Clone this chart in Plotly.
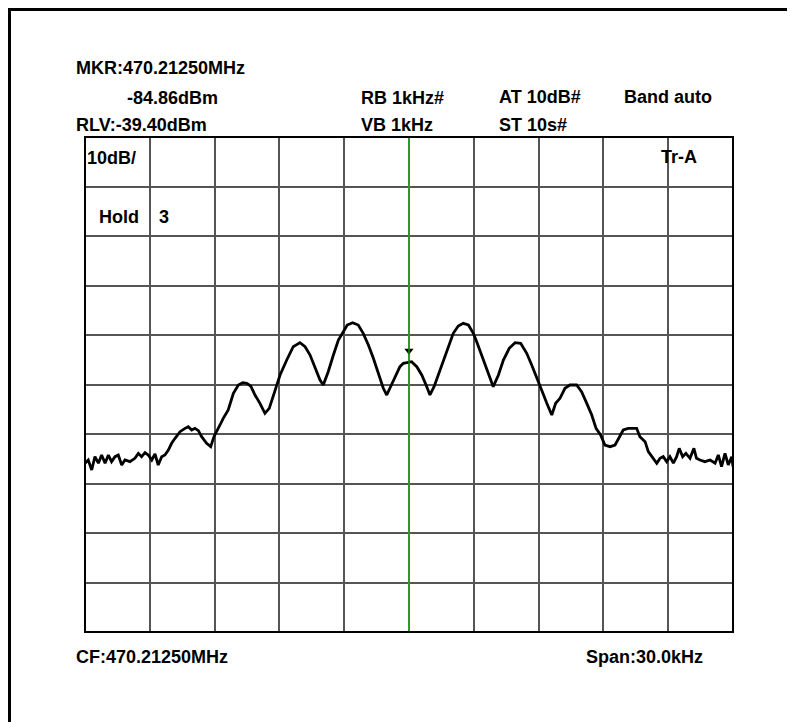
import plotly.graph_objects as go

# trace: offset from centre frequency (kHz) and level (dBm)
freq_khz = [
    -15.0, -14.85, -14.69, -14.54, -14.38, -14.23, -14.07, -13.92, -13.77, -13.61,
    -13.46, -13.30, -13.15, -12.92, -12.69, -12.53, -12.38, -12.22, -12.07, -11.91,
    -11.76, -11.61, -11.45, -11.30, -11.14, -10.99, -10.83, -10.60, -10.37, -10.22,
    -10.06, -9.91, -9.75, -9.60, -9.37, -9.18, -9.03, -8.90, -8.75, -8.60,
    -8.37, -8.13, -7.90, -7.70, -7.51, -7.33, -7.13, -6.90, -6.67, -6.47,
    -6.20, -5.97, -5.66, -5.36, -5.05, -4.81, -4.58, -4.35, -4.12, -3.97,
    -3.74, -3.50, -3.27, -3.04, -2.86, -2.61, -2.35, -2.12, -1.88, -1.65,
    -1.42, -1.19, -1.03, -0.88, -0.73, -0.42, -0.26, 0.0, 0.12, 0.36,
    0.59, 0.79, 0.97, 1.16, 1.36, 1.59, 1.82, 2.05, 2.28, 2.51,
    2.75, 2.98, 3.16, 3.36, 3.60, 3.90, 4.14, 4.37, 4.64, 4.91,
    5.17, 5.45, 5.68, 5.91, 6.14, 6.38, 6.61, 6.79, 6.99, 7.22,
    7.45, 7.76, 7.99, 8.23, 8.46, 8.66, 8.87, 9.07, 9.31, 9.54,
    9.77, 9.92, 10.15, 10.54, 10.69, 10.93, 11.08, 11.31, 11.47, 11.62,
    11.77, 11.93, 12.08, 12.24, 12.39, 12.51, 12.67, 12.82, 13.01, 13.19,
    13.31, 13.47, 13.70, 13.94, 14.17, 14.32, 14.47, 14.63, 14.78, 14.94,
    15.0,
]
level_dbm = [
    -105.3, -104.65, -106.67, -103.98, -105.3, -103.64, -105.3, -103.64, -104.99, -103.98,
    -103.64, -105.66, -104.65, -104.99, -104.32, -103.31, -103.98, -103.17, -103.64, -104.65,
    -103.44, -105.66, -103.98, -103.64, -102.63, -101.28, -100.27, -98.93, -98.26, -97.92,
    -98.59, -98.26, -98.73, -99.94, -101.28, -101.96, -99.94, -98.93, -97.58, -96.23,
    -94.55, -91.18, -89.50, -89.03, -89.16, -89.70, -91.52, -93.20, -95.22, -94.21,
    -90.51, -87.48, -84.45, -81.76, -80.95, -81.76, -83.44, -85.80, -88.49, -89.50,
    -86.81, -83.44, -80.41, -78.73, -77.38, -76.91, -77.38, -79.06, -81.42, -84.11,
    -87.14, -90.17, -91.52, -90.17, -88.49, -85.80, -85.12, -84.86, -84.79, -85.80,
    -87.48, -89.50, -91.52, -89.84, -87.48, -84.45, -81.76, -79.06, -77.58, -77.04,
    -77.38, -79.06, -81.08, -83.44, -86.47, -89.84, -87.48, -84.45, -82.09, -80.95,
    -81.08, -83.10, -85.46, -87.82, -90.51, -93.20, -95.56, -93.20, -92.19, -90.17,
    -89.50, -89.50, -90.85, -93.20, -95.56, -98.26, -99.60, -101.62, -101.96, -101.62,
    -99.94, -98.59, -98.26, -98.26, -99.94, -100.95, -102.97, -104.32, -105.3, -104.32,
    -103.98, -104.99, -103.98, -105.3, -103.98, -102.29, -103.98, -103.31, -104.32, -102.29,
    -104.32, -104.65, -104.99, -104.65, -105.3, -103.64, -106.0, -103.31, -105.66, -103.98,
    -106.0,
]

marker_khz = [0.0]
marker_dbm = [-84.86]

ref_level = -39.40
db_per_div = 10

# page is shown with the body's 8px margin, so work in page pixels and shift
OFF = 8
W, H = 795 - OFF, 722 - OFF
L, R, T, B = 85 - OFF, 733 - OFF, 137 - OFF, 632 - OFF


def px(x):
    return (x - OFF - L) / (R - L)


def py(y):
    return (B - (y - OFF)) / (B - T)


fig = go.Figure()
fig.add_trace(go.Scatter(x=freq_khz, y=level_dbm, mode="lines",
                         line=dict(color="black", width=2.8), hoverinfo="skip"))
fig.add_trace(go.Scatter(x=marker_khz, y=[marker_dbm[0] + 2.3], mode="markers",
                         marker=dict(symbol="triangle-down", size=8, color="black"),
                         hoverinfo="skip"))

labels = [
    ("MKR:470.21250MHz", 77, 68),
    ("-84.86dBm", 128, 98),
    ("RLV:-39.40dBm", 77, 125),
    ("RB 1kHz#", 362, 98),
    ("VB 1kHz", 362, 125),
    ("AT 10dB#", 500, 97),
    ("Band auto", 625, 97),
    ("ST 10s#", 500, 125),
    ("10dB/", 88, 158),
    ("Hold", 100, 217),
    ("3", 160, 217),
    ("Tr-A", 662, 157),
    ("CF:470.21250MHz", 77, 657),
    ("Span:30.0kHz", 587, 657),
]
for text, x, y in labels:
    fig.add_annotation(text=text, x=px(x - 1), y=py(y), xref="paper", yref="paper",
                       xanchor="left", yanchor="middle", showarrow=False,
                       borderpad=0, borderwidth=0,
                       font=dict(family="Liberation Sans, Arial", size=18,
                                 color="black", weight="bold"))

# centre marker line
fig.add_shape(type="line", x0=0, x1=0, y0=0, y1=1, xref="x", yref="paper",
              line=dict(color="#00e000", width=1))
# plot frame
fig.add_shape(type="rect", x0=0, x1=1, y0=0, y1=1, xref="paper", yref="paper",
              line=dict(color="black", width=2))
# outer frame
fig.add_shape(type="rect", x0=px(9.5), x1=px(900), y0=py(900), y1=py(9.5),
              xref="paper", yref="paper", line=dict(color="black", width=3))

fig.update_xaxes(range=[-15, 15], dtick=3, tick0=-15, showticklabels=False,
                 showgrid=True, gridcolor="#555", gridwidth=1.5, zeroline=False,
                 ticks="")
fig.update_yaxes(range=[ref_level - 10 * db_per_div, ref_level], dtick=db_per_div,
                 tick0=ref_level, showticklabels=False, showgrid=True,
                 gridcolor="#555", gridwidth=1.5, zeroline=False, ticks="")
fig.update_layout(width=W, height=H, showlegend=False,
                  margin=dict(l=L, r=W - R, t=T, b=H - B),
                  paper_bgcolor="white", plot_bgcolor="white")

fig.write_html("out.html")
